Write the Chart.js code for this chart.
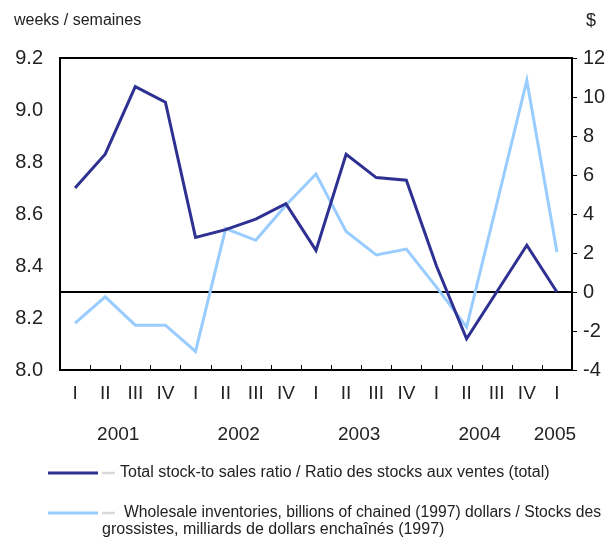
<!DOCTYPE html>
<html>
<head>
<meta charset="utf-8">
<script src="https://cdn.jsdelivr.net/npm/chart.js@4/dist/chart.umd.min.js"></script>
<style>
  html, body { margin: 0; padding: 0; background: #fff; }
  #wrap { width: 613px; height: 543px; position: relative; }
</style>
</head>
<body>
<div id="wrap"><canvas id="chart" width="613" height="543"></canvas></div>
<script>
const quarters = ['I', 'II', 'III', 'IV', 'I', 'II', 'III', 'IV', 'I', 'II', 'III', 'IV', 'I', 'II', 'III', 'IV', 'I'];
const years = ['2001', '2002', '2003', '2004', '2005'];
const stockRatio = [8.70, 8.83, 9.09, 9.03, 8.51, 8.54, 8.58, 8.64, 8.46, 8.83, 8.74, 8.73, 8.40, 8.12, 8.30, 8.48, 8.30];
const inventories = [-1.6, -0.25, -1.7, -1.7, -3.05, 3.25, 2.65, 4.45, 6.05, 3.1, 1.9, 2.2, 0.25, -1.8, 4.5, 10.85, 2.05];
const leftTicks = [8.0, 8.2, 8.4, 8.6, 8.8, 9.0, 9.2];
const rightTicks = [-4, -2, 0, 2, 4, 6, 8, 10, 12];

const FONT = "'Liberation Sans', Arial, sans-serif";
const darkBlue = '#2e3192';
const lightBlue = '#99ccff';

// cadre, ligne zéro, graduations, années et légende
const decorations = {
    id: 'decorations',
    beforeDatasetsDraw(chart) {
        const { ctx, chartArea: a, scales } = chart;
        const y0 = scales.y1.getPixelForValue(0);
        ctx.save();
        ctx.strokeStyle = '#000';
        ctx.lineWidth = 2;
        ctx.beginPath();
        ctx.moveTo(a.left, y0);
        ctx.lineTo(a.right, y0);
        ctx.stroke();
        ctx.restore();
    },
    afterDraw(chart) {
        const { ctx, chartArea: a, scales } = chart;
        const x = scales.x;
        ctx.save();
        ctx.strokeStyle = '#000';
        ctx.lineWidth = 2;
        ctx.strokeRect(a.left, a.top, a.right - a.left, a.bottom - a.top);

        // graduations internes sur l'axe des x
        ctx.lineWidth = 1;
        ctx.beginPath();
        for (let i = 0; i < quarters.length - 1; i++) {
            const px = Math.round((x.getPixelForValue(i) + x.getPixelForValue(i + 1)) / 2) + 0.5;
            ctx.moveTo(px, a.bottom);
            ctx.lineTo(px, a.bottom - 5);
        }
        // graduations externes à droite
        rightTicks.forEach(v => {
            const py = Math.round(scales.y1.getPixelForValue(v)) + 0.5;
            ctx.moveTo(a.right, py);
            ctx.lineTo(a.right + 5, py);
        });
        ctx.stroke();

        // années
        ctx.fillStyle = '#222';
        ctx.font = '19px ' + FONT;
        ctx.textAlign = 'center';
        ctx.textBaseline = 'middle';
        years.forEach((yr, k) => {
            const first = k * 4;
            const last = Math.min(first + 3, quarters.length - 1);
            const cx = (x.getPixelForValue(first) + x.getPixelForValue(last)) / 2;
            ctx.fillText(yr, cx - 2, 435);
        });

        // titres des axes
        ctx.font = '16px ' + FONT;
        ctx.textAlign = 'left';
        ctx.fillText('weeks / semaines', 14, 21);
        ctx.font = '18px ' + FONT;
        ctx.fillText('$', 586, 21);

        // légende
        const legendRows = [
            { color: darkBlue, y: 473, text: 'Total stock-to sales ratio / Ratio des stocks aux ventes (total)', tx: 120, w: 432 },
            { color: lightBlue, y: 513, text: 'Wholesale inventories, billions of chained (1997) dollars / Stocks des', tx: 124, w: 477 }
        ];
        ctx.font = '16px ' + FONT;
        legendRows.forEach(r => {
            ctx.strokeStyle = r.color;
            ctx.lineWidth = 3;
            ctx.beginPath();
            ctx.moveTo(48, r.y);
            ctx.lineTo(98, r.y);
            ctx.stroke();
            ctx.strokeStyle = '#d9d9d9';
            ctx.lineWidth = 2.5;
            ctx.beginPath();
            ctx.moveTo(102, r.y);
            ctx.lineTo(115, r.y);
            ctx.stroke();
            ctx.fillText(r.text, r.tx, r.y, r.w);
        });
        ctx.fillText('grossistes, milliards de dollars enchaînés (1997)', 102, 530, 346);
        ctx.restore();
    }
};

const ctx = document.getElementById('chart').getContext('2d');
new Chart(ctx, {
    type: 'line',
    data: {
        labels: quarters,
        datasets: [
            {
                label: 'Total stock-to sales ratio / Ratio des stocks aux ventes (total)',
                data: stockRatio,
                borderColor: darkBlue,
                borderWidth: 3,
                pointRadius: 0,
                tension: 0,
                yAxisID: 'y'
            },
            {
                label: 'Wholesale inventories, billions of chained (1997) dollars / Stocks des grossistes, milliards de dollars enchaînés (1997)',
                data: inventories,
                borderColor: lightBlue,
                borderWidth: 3,
                pointRadius: 0,
                tension: 0,
                yAxisID: 'y1'
            }
        ]
    },
    options: {
        responsive: false,
        animation: false,
        layout: { padding: { top: 58, left: 0, right: 0, bottom: 0 } },
        plugins: {
            legend: { display: false },
            title: { display: false },
            tooltip: { enabled: false }
        },
        scales: {
            x: {
                offset: true,
                grid: { display: false, drawTicks: false },
                border: { display: false },
                ticks: {
                    color: '#222',
                    font: { family: FONT, size: 19 },
                    padding: 12,
                    maxRotation: 0,
                    autoSkip: false
                },
                afterFit: s => { s.height = 173; }
            },
            y: {
                position: 'left',
                min: 8.0,
                max: 9.2,
                afterBuildTicks: s => { s.ticks = leftTicks.map(v => ({ value: v })); },
                grid: { display: false, drawTicks: false },
                border: { display: false },
                ticks: {
                    color: '#222',
                    font: { family: FONT, size: 20 },
                    padding: 17,
                    callback: v => v.toFixed(1)
                },
                afterFit: s => { s.width = 60; }
            },
            y1: {
                position: 'right',
                min: -4,
                max: 12,
                afterBuildTicks: s => { s.ticks = rightTicks.map(v => ({ value: v })); },
                grid: { display: false, drawTicks: false },
                border: { display: false },
                ticks: {
                    color: '#222',
                    font: { family: FONT, size: 20 },
                    padding: 11
                },
                afterFit: s => { s.width = 41; }
            }
        }
    },
    plugins: [decorations]
});
</script>
</body>
</html>
